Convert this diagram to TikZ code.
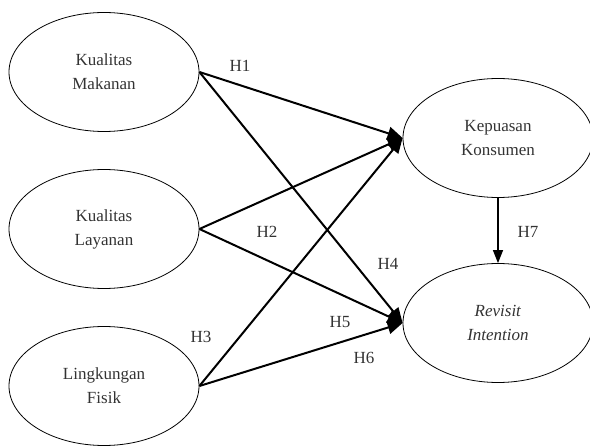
\documentclass[tikz,border=0pt]{standalone}
\usepackage{fontspec}
\setmainfont{Liberation Serif}
\usetikzlibrary{shapes.geometric,arrows.meta}
\begin{document}
\begin{tikzpicture}[
	                  x = 1pt,
	                  y = -1pt,
	     construct/.style = {ellipse, draw, line width=0.8pt, minimum width=190pt, minimum height=119pt, inner sep=0pt, align=center, text=black!80, font=\fontsize{17}{24}\selectfont},
	          path/.style = {line width=2pt, -{Triangle[length=15pt,width=13pt]}},
	        hlabel/.style = {font=\fontsize{17}{20}\selectfont, inner sep=0pt, text=black!80}
	                     ]
	\useasboundingbox (0,0) rectangle (590,446);
	% exogenous constructs
	\node[construct] (km) at (104,72)  {Kualitas\\Makanan};
	\node[construct] (kl) at (104,229) {Kualitas\\Layanan};
	\node[construct] (lf) at (104,386) {Lingkungan\\Fisik};
	% endogenous constructs
	\node[construct] (kk) at (498,138) {Kepuasan\\Konsumen};
	\node[construct] (ri) at (498,323) {\textit{Revisit}\\\textit{Intention}};
	% paths
	\draw[path] (km.east) -- (kk.west);
	\draw[path] (km.east) -- (ri.west);
	\draw[path] (kl.east) -- (kk.west);
	\draw[path] (kl.east) -- (ri.west);
	\draw[path] (lf.east) -- (kk.west);
	\draw[path] (lf.east) -- (ri.west);
	\draw[path, -{Triangle[length=13pt,width=10pt]}, line width=1.3pt] (kk.south) -- (ri.north);
	% hypotheses
	\node[hlabel] (h1) at (240,66)  {H1};
	\node[hlabel] (h2) at (267,232) {H2};
	\node[hlabel] (h3) at (201,337) {H3};
	\node[hlabel] (h4) at (388,264) {H4};
	\node[hlabel] (h5) at (340,322) {H5};
	\node[hlabel] (h6) at (364,358) {H6};
	\node[hlabel] (h7) at (528,232) {H7};
\end{tikzpicture}
\end{document}
